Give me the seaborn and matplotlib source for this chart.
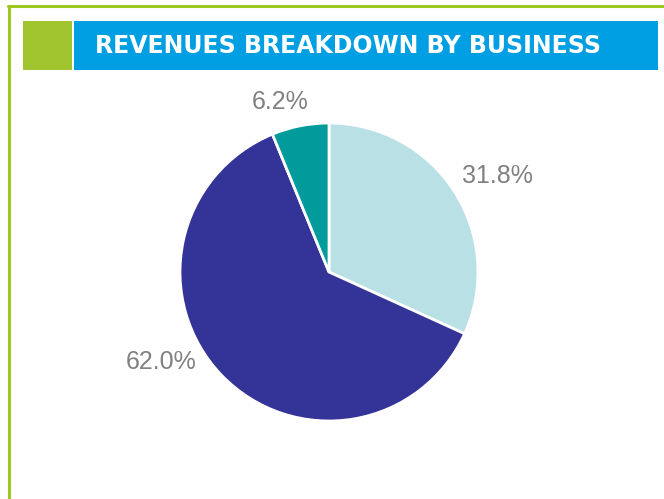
import matplotlib
matplotlib.use("Agg")
import matplotlib.pyplot as plt
import seaborn as sns
from matplotlib.patches import Rectangle
from matplotlib.lines import Line2D

# data
businesses = ["Business A", "Business B", "Business C"]
shares = [31.8, 62.0, 6.2]
share_labels = ["31.8%", "62.0%", "6.2%"]

# colours / layout
slice_colors = ["#B9E0E4", "#343397", "#009B9A"]
label_xy = [(1.131, 0.641), (-1.128, -0.601), (-0.329, 1.144)]
green = "#9DC81E"
blue = "#009FE3"

sns.set_theme(style="white")
plt.rcParams['font.family'] = ['Liberation Sans', 'DejaVu Sans']

W, H = 664, 499
fig = plt.figure(figsize=(W / 100, H / 100), dpi=100)
fig.patch.set_facecolor("white")

# frame lines (top and left)
fig.add_artist(Line2D([8 / W, 1], [1 - 6 / H, 1 - 6 / H], color=green, lw=2.2))
fig.add_artist(Line2D([8.5 / W, 8.5 / W], [0, 1 - 6 / H], color=green, lw=2.2))

# title bar
fig.add_artist(Rectangle((23 / W, 1 - 70 / H), 49 / W, 49 / H, color="#A0C52F", lw=0))
fig.add_artist(Rectangle((74 / W, 1 - 70 / H), 584 / W, 49 / H, color=blue, lw=0))
fig.text(95 / W, 1 - 46 / H, "REVENUES BREAKDOWN BY BUSINESS", color="white",
         fontsize=17, fontweight="bold", va="center", ha="left",
         family="DejaVu Sans")

# pie
cx, cy, r = 329, 272, 149
ax = fig.add_axes([(cx - r) / W, (H - cy - r) / H, 2 * r / W, 2 * r / H])
ax.pie(shares, colors=slice_colors, startangle=90, counterclock=False,
       radius=1, wedgeprops=dict(edgecolor="white", linewidth=2))
for txt, (x, y) in zip(share_labels, label_xy):
    ax.text(x, y, txt, ha="center", va="center", fontsize=18, color="#808080")
ax.set_xlim(-1, 1)
ax.set_ylim(-1, 1)
ax.set_aspect("equal")
ax.axis("off")

fig.savefig("out.png", dpi=100)
